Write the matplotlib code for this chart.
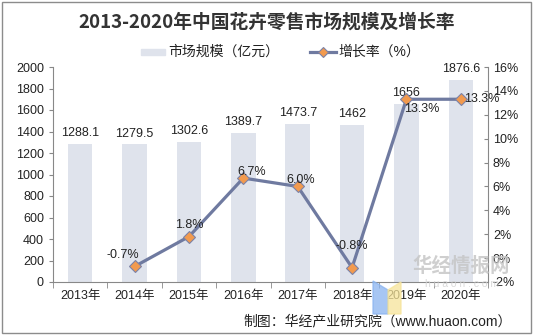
import matplotlib
matplotlib.use("Agg")
import matplotlib.pyplot as plt
from matplotlib.patches import Rectangle, Polygon

plt.rcParams['font.family'] = ['Liberation Sans', 'Noto Sans CJK SC', 'DejaVu Sans']

years = ["2013年", "2014年", "2015年", "2016年", "2017年", "2018年", "2019年", "2020年"]
market_size = [1288.1, 1279.5, 1302.6, 1389.7, 1473.7, 1462, 1656, 1876.6]
growth_years = ["2014年", "2015年", "2016年", "2017年", "2018年", "2019年", "2020年"]
growth_rate = [-0.7, 1.8, 6.7, 6.0, -0.8, 13.3, 13.3]

W, H = 533, 335
fig = plt.figure(figsize=(W / 100, H / 100), dpi=100)

# outer frame
fig.patches.append(Rectangle((2 / W, 2 / H), 1 - 4 / W, 1 - 4 / H, transform=fig.transFigure,
                             fill=False, edgecolor="#8c8c8c", linewidth=1.0))

ax = fig.add_axes([53 / W, 1 - 282 / H, (488 - 53) / W, (282 - 67) / H])
ax2 = ax.twinx()

x = list(range(len(years)))
bar_color = "#dfe3ec"
ax.bar(x, market_size, width=0.45, color=bar_color, zorder=1)
ax.set_xlim(-0.5, len(years) - 0.5)
ax.set_ylim(0, 2000)
ax.set_yticks(range(0, 2001, 200))
ax.set_xticks(x)
ax.set_xticklabels(years)
ax.set_xticks([i + 0.5 for i in range(-1, len(years))], minor=True)
ax.tick_params(axis="x", which="major", length=0, pad=6, labelsize=9, colors="#222222")
ax.tick_params(axis="x", which="minor", length=4, color="#888888")
ax.tick_params(axis="y", length=3, color="#888888", labelsize=9, labelcolor="#222222")
for side in ["top", "right"]:
    ax.spines[side].set_visible(False)
ax.spines["left"].set_color("#888888")
ax.spines["bottom"].set_color("#888888")

for xi, v in zip(x, market_size):
    ax.text(xi, v + 45, f"{v:g}", ha="center", va="bottom", fontsize=9, color="#222222")

gx = [years.index(y) for y in growth_years]
line_color = "#6f7aa0"
ax2.plot(gx, growth_rate, color=line_color, linewidth=2.3, marker="D", markersize=6.5,
         markerfacecolor="#f29a4e", markeredgecolor="#7c82a6", markeredgewidth=0.8, zorder=3)
ax2.set_ylim(-2, 16)
ax2.set_yticks(range(-2, 17, 2))
ax2.set_yticklabels([f"{t}%" for t in range(-2, 17, 2)])
ax2.tick_params(axis="y", length=3, color="#888888", labelsize=9, labelcolor="#222222", direction="in")
for side in ["top", "left", "bottom"]:
    ax2.spines[side].set_visible(False)
ax2.spines["right"].set_color("#888888")

offsets = {
    "2014年": (-0.22, 1.0, "center"),
    "2015年": (0.0, 1.0, "center"),
    "2016年": (0.15, 0.5, "center"),
    "2017年": (0.05, 0.5, "center"),
    "2018年": (0.0, 1.8, "center"),
    "2019年": (-0.05, -0.8, "left"),
    "2020年": (0.06, 0.0, "left"),
}
for yr, g in zip(growth_years, growth_rate):
    dx, dy, ha = offsets[yr]
    xi = years.index(yr)
    ax2.text(xi + dx, g + dy, f"{g:.1f}%", ha=ha, va="center",
             fontsize=9, color="#222222", zorder=4)

# title and legend
fig.text(0.5, 1 - 22 / H, "2013-2020年中国花卉零售市场规模及增长率", ha="center", va="center",
         fontsize=13.5, fontweight="bold", color="#333333",
         family=['Noto Sans CJK SC', 'DejaVu Sans'])
lax = fig.add_axes([0, 0, 1, 1], facecolor="none")
lax.set_xlim(0, W)
lax.set_ylim(H, 0)
lax.axis("off")
lax.add_patch(Rectangle((141, 49), 24, 6, color=bar_color))
lax.text(168, 52, "市场规模（亿元）", va="center", ha="left", fontsize=10, color="#222222")
lax.plot([310, 336], [52, 52], color=line_color, linewidth=2.3)
lax.plot([323], [52], marker="D", markersize=5.5, markerfacecolor="#f29a4e",
         markeredgecolor="#7c82a6", markeredgewidth=0.8)
lax.text(338, 52, "增长率（%）", va="center", ha="left", fontsize=10, color="#222222")

# watermark
lax.add_patch(Polygon([(373, 281), (388, 290), (388, 314), (373, 314)], closed=True,
                      color="#8ab4f0", alpha=0.75, zorder=5))
lax.add_patch(Polygon([(388, 290), (401, 282), (401, 314), (388, 314)], closed=True,
                      color="#f6e49a", alpha=0.75, zorder=5))
lax.text(461, 266, "华经情报网", ha="center", va="center", fontsize=14, fontweight="bold",
         color="#c4c4c4", alpha=0.8, zorder=5, family=['Noto Sans CJK SC'])
lax.text(462, 284, "h u a o n . c o m", ha="center", va="center", fontsize=7.5,
         color="#d0d0d0", alpha=0.8, zorder=5)

# source note
lax.text(512, 321, "制图：华经产业研究院（www.huaon.com）", ha="right", va="center",
         fontsize=10, color="#222222")

fig.savefig("out.png", dpi=100)
